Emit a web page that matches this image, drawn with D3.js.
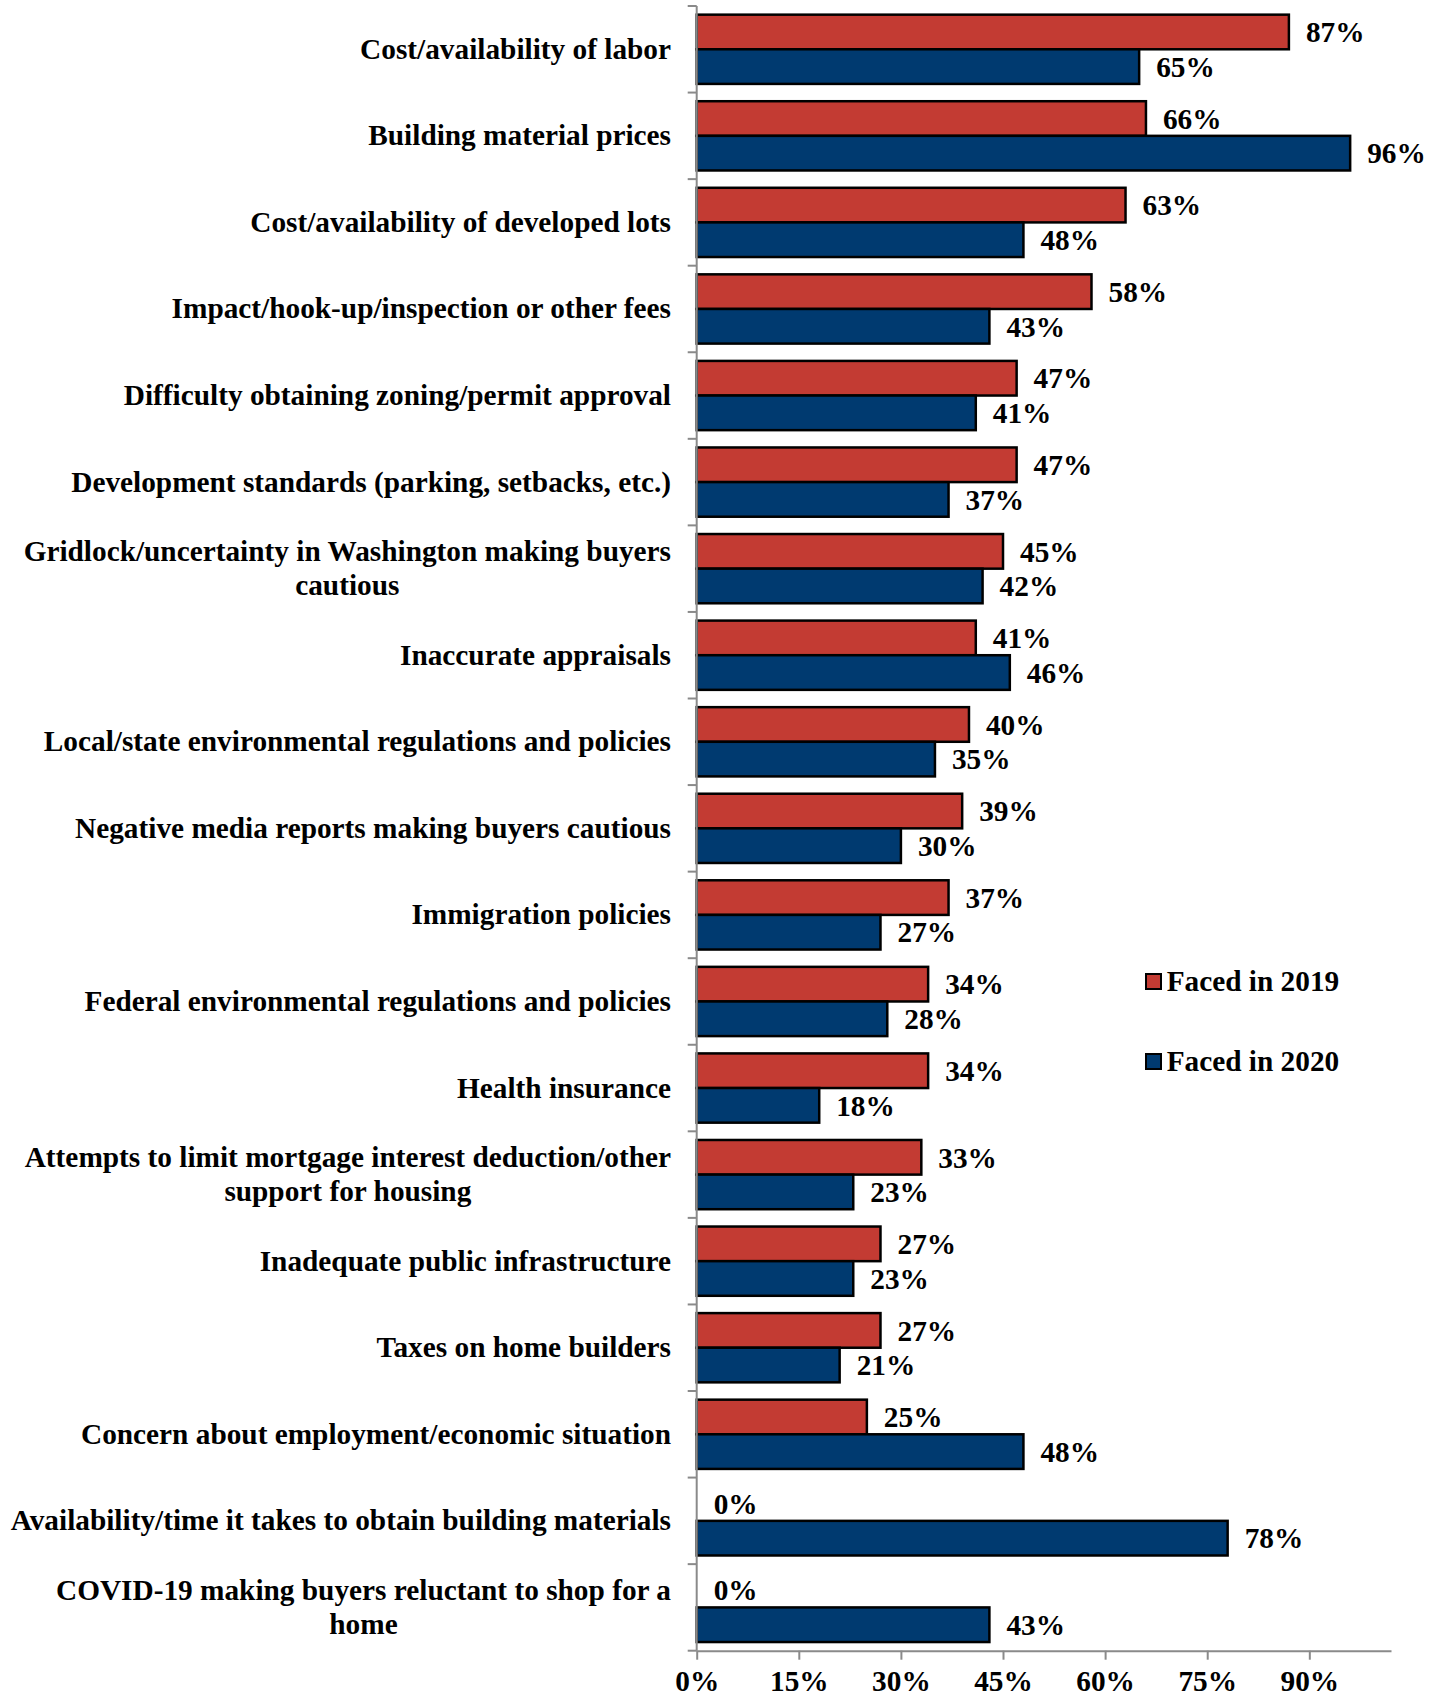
<!DOCTYPE html>
<html>
<head>
<meta charset="utf-8">
<script src="https://cdn.jsdelivr.net/npm/d3@7/dist/d3.min.js"></script>
<style>
  html, body { margin: 0; padding: 0; background: #fff; }
  svg { display: block; }
  text { font-family: "Liberation Serif", "Times New Roman", serif; font-weight: bold; fill: #000; }
</style>
</head>
<body>
<svg id="chart" width="1441" height="1698"></svg>
<script>
const categories = [
  "Cost/availability of labor",
  "Building material prices",
  "Cost/availability of developed lots",
  "Impact/hook-up/inspection or other fees",
  "Difficulty obtaining zoning/permit approval",
  "Development standards (parking, setbacks, etc.)",
  "Gridlock/uncertainty in Washington making buyers\ncautious",
  "Inaccurate appraisals",
  "Local/state environmental regulations and policies",
  "Negative media reports making buyers cautious",
  "Immigration policies",
  "Federal environmental regulations and policies",
  "Health insurance",
  "Attempts to limit mortgage interest deduction/other\nsupport for housing",
  "Inadequate public infrastructure",
  "Taxes on home builders",
  "Concern about employment/economic situation",
  "Availability/time it takes to obtain building materials",
  "COVID-19 making buyers reluctant to shop for a\nhome"
];
const faced2019 = [87, 66, 63, 58, 47, 47, 45, 41, 40, 39, 37, 34, 34, 33, 27, 27, 25, 0, 0];
const faced2020 = [65, 96, 48, 43, 41, 37, 42, 46, 35, 30, 27, 28, 18, 23, 23, 21, 48, 78, 43];
const seriesNames = ["Faced in 2019", "Faced in 2020"];
const seriesColors = ["#C33B33", "#003A70"];
const xTicks = [0, 15, 30, 45, 60, 75, 90];

const svg = d3.select("#chart");
const FS = 29.3;
const x0 = 696.7, x1 = 1391, yTop = 6, yBot = 1650.7;

const x = d3.scaleLinear().domain([0, 102]).range([x0, x1]);
const y = d3.scaleBand().domain(categories).range([yTop, yBot]).paddingInner(0.2).paddingOuter(0.1);
const ySub = d3.scaleBand().domain(seriesNames).range([0, y.bandwidth()]);

const rows = categories.map((c, i) => ({ cat: c, vals: [faced2019[i], faced2020[i]] }));

// bars
const g = svg.append("g");
rows.forEach(r => {
  r.vals.forEach((v, j) => {
    const yy = y(r.cat) + ySub(seriesNames[j]);
    if (v > 0) {
      g.append("rect")
        .attr("x", x(0))
        .attr("y", yy)
        .attr("width", x(v) - x(0))
        .attr("height", ySub.bandwidth())
        .attr("fill", seriesColors[j])
        .attr("stroke", "#000")
        .attr("stroke-width", 2.5);
    }
    g.append("text")
      .attr("x", x(v) + 17)
      .attr("y", yy + ySub.bandwidth() / 2)
      .attr("dy", "0.35em")
      .attr("font-size", FS)
      .text(v + "%");
  });
});

// left axis line and ticks at band boundaries
const axisColor = "#8a8a8a";
svg.append("line")
  .attr("x1", x0).attr("x2", x0)
  .attr("y1", yTop).attr("y2", yBot)
  .attr("stroke", axisColor).attr("stroke-width", 2);
for (let i = 0; i <= categories.length; i++) {
  const ty = yTop + i * y.step();
  svg.append("line")
    .attr("x1", x0 - 9).attr("x2", x0)
    .attr("y1", ty).attr("y2", ty)
    .attr("stroke", axisColor).attr("stroke-width", 2);
}

// bottom axis
const xAxis = d3.axisBottom(x)
  .tickValues(xTicks)
  .tickSize(9)
  .tickSizeOuter(0)
  .tickPadding(10.5)
  .tickFormat(d => d + "%");
const ax = svg.append("g").attr("transform", `translate(0,${yBot})`).call(xAxis);
ax.select(".domain").attr("stroke", axisColor).attr("stroke-width", 2);
ax.selectAll(".tick line").attr("stroke", axisColor).attr("stroke-width", 2);
ax.selectAll(".tick text")
  .attr("font-size", FS)
  .attr("font-family", "Liberation Serif, Times New Roman, serif")
  .attr("font-weight", "bold")
  .attr("fill", "#000");

// category labels
const labelRight = 671;
const lineH = 33.5;
rows.forEach(r => {
  const lines = r.cat.split("\n");
  const cy = y(r.cat) + y.bandwidth() / 2;
  const t = svg.append("text").attr("font-size", FS);
  if (lines.length === 1) {
    t.attr("x", labelRight).attr("y", cy + 9.5).attr("text-anchor", "end").text(lines[0]);
  } else {
    const spans = lines.map((ln, k) =>
      t.append("tspan")
        .attr("y", cy + 9.5 + (k - (lines.length - 1) / 2) * lineH)
        .text(ln));
    const w = d3.max(spans, s => s.node().getComputedTextLength());
    t.attr("text-anchor", "middle");
    spans.forEach(s => s.attr("x", labelRight - w / 2));
  }
});

// legend
const legendY = [974, 1054];
seriesNames.forEach((name, j) => {
  svg.append("rect")
    .attr("x", 1146).attr("y", legendY[j])
    .attr("width", 15).attr("height", 15)
    .attr("fill", seriesColors[j])
    .attr("stroke", "#000").attr("stroke-width", 2);
  svg.append("text")
    .attr("x", 1166.7).attr("y", legendY[j] + 16.7)
    .attr("font-size", FS)
    .text(name);
});
</script>
</body>
</html>
